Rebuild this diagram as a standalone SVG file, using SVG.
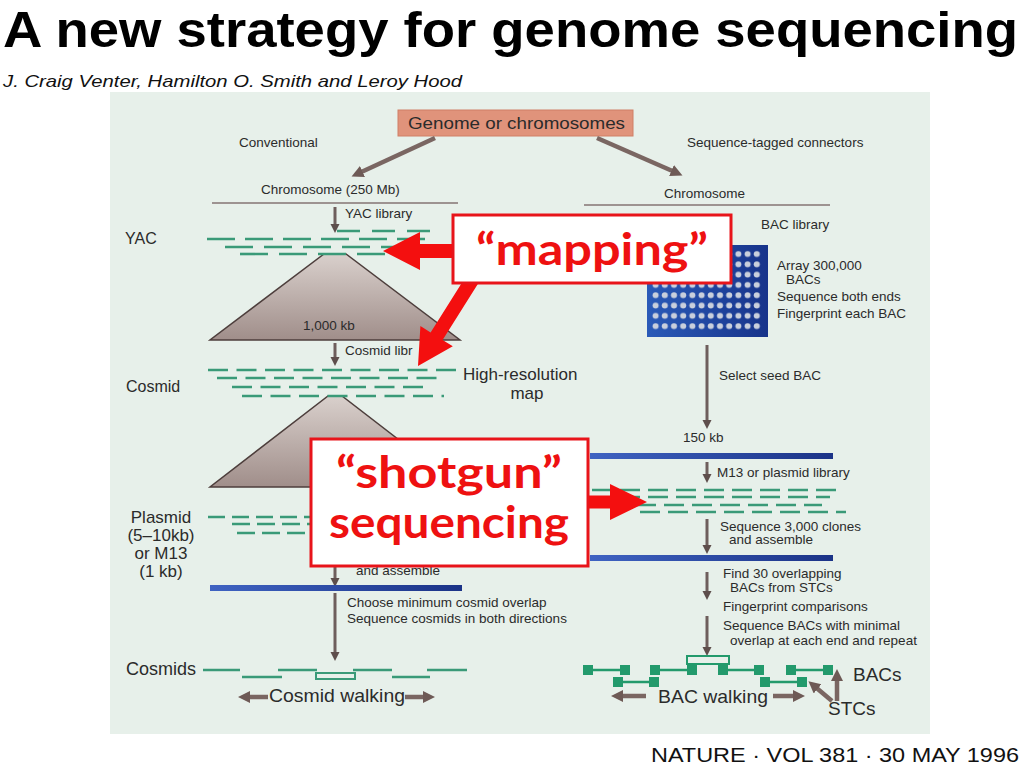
<svg xmlns="http://www.w3.org/2000/svg" width="1024" height="768" viewBox="0 0 1024 768">
<style>
.t{font-family:"Liberation Sans",Arial,sans-serif;fill:#2b2b2b;font-size:13.5px}
.s16{font-size:16px}
.m{font-size:17px}
.l{font-size:18px}
.s19{font-size:19px}
.g{fill:none;stroke:#6e5e5c;stroke-width:3;marker-end:url(#ah)}
.gw{fill:none;stroke:#7a6662;stroke-width:4.5;marker-end:url(#ahw)}
.d{stroke:#3a9a78;stroke-width:2.6;fill:none}
.sq{fill:#239a6c}
.red{font-family:Lato,"Open Sans","Liberation Sans",sans-serif;font-weight:bold;fill:#ee1111;font-size:44px}
.rb{fill:#fff;stroke:#e8141a;stroke-width:3}
.ra{fill:#f40f0f}
</style>
<defs>
<marker id="ah" markerUnits="userSpaceOnUse" markerWidth="10" markerHeight="10" refX="5" refY="4.5" orient="auto"><path d="M0,0 L9,4.5 L0,9 z" fill="#5e4e4c"/></marker>
<marker id="ahw" markerUnits="userSpaceOnUse" markerWidth="14" markerHeight="14" refX="6" refY="6" orient="auto"><path d="M0,0 L12,6 L0,12 z" fill="#6e5a56"/></marker>
<linearGradient id="tri" x1="0" y1="0" x2="0" y2="1"><stop offset="0" stop-color="#d9d0cc"/><stop offset="1" stop-color="#a08e8a"/></linearGradient>
<linearGradient id="bar" x1="0" y1="0" x2="1" y2="0"><stop offset="0" stop-color="#3f63c2"/><stop offset="1" stop-color="#1b3387"/></linearGradient>
<linearGradient id="arr" x1="0" y1="0" x2="1" y2="0"><stop offset="0" stop-color="#2a5ab8"/><stop offset="1" stop-color="#17338a"/></linearGradient>
<pattern id="dots" x="651" y="249" width="9.2" height="10.3" patternUnits="userSpaceOnUse"><circle cx="4.6" cy="5" r="3" fill="#c9cfdc"/></pattern>
</defs>
<rect width="1024" height="768" fill="#fff"/>
<text x="3" y="47" font-family="'Liberation Sans Narrow','Liberation Sans',Arial,sans-serif" font-weight="bold" font-size="50" textLength="1015" lengthAdjust="spacingAndGlyphs" fill="#000">A new strategy for genome sequencing</text>
<text x="3" y="87" font-family="'Liberation Sans',Arial,sans-serif" font-style="italic" font-size="17" textLength="459" lengthAdjust="spacingAndGlyphs" fill="#111">J. Craig Venter, Hamilton O. Smith and Leroy Hood</text>
<text x="651" y="762" font-family="'Liberation Sans',Arial,sans-serif" font-size="20" textLength="368" lengthAdjust="spacingAndGlyphs" fill="#111">NATURE · VOL 381 · 30 MAY 1996</text>

<rect x="110" y="92" width="820" height="642" fill="#e7f0ea"/>

<g id="genome">
<rect x="398" y="110" width="235" height="26" fill="#e0937b" stroke="#d07f66"/>
<text class="t m" x="408" y="129" textLength="217" lengthAdjust="spacingAndGlyphs">Genome or chromosomes</text>
</g>
<text class="t" x="239" y="147">Conventional</text>
<text class="t" x="687" y="147">Sequence-tagged connectors</text>

<g id="connectors">
<line class="gw" x1="435" y1="138" x2="357" y2="174"/>
<line class="gw" x1="597" y1="138" x2="677" y2="173"/>
<line class="g" x1="335" y1="207" x2="335" y2="229"/>
<line class="g" x1="335" y1="343" x2="335" y2="362"/>
<line class="g" x1="335" y1="566" x2="335" y2="583"/>
<line class="g" x1="335" y1="593" x2="335" y2="657"/>
<line class="g" x1="707" y1="345" x2="707" y2="425"/>
<line class="g" x1="707" y1="462" x2="707" y2="479"/>
<line class="g" x1="707" y1="519" x2="707" y2="550"/>
<line class="g" x1="707" y1="572" x2="707" y2="596"/>
<line class="g" x1="707" y1="616" x2="707" y2="652"/>
<line class="gw" x1="268" y1="697" x2="244" y2="697"/>
<line class="gw" x1="405" y1="697" x2="429" y2="697"/>
<line class="gw" x1="646" y1="696" x2="617" y2="696"/>
<line class="gw" x1="773" y1="696" x2="799" y2="696"/>
<line class="gw" x1="832" y1="701" x2="813" y2="685"/>
<line class="gw" x1="837" y1="701" x2="837" y2="675"/>
</g>

<g id="left-column">
<text class="t" x="261" y="194">Chromosome (250 Mb)</text>
<line x1="212" y1="203" x2="458" y2="203" stroke="#857573" stroke-width="1.5"/>
<text class="t" x="345" y="218">YAC library</text>
<text class="t s16" x="125" y="244">YAC</text>
<polygon points="324,254 346,254 460,340 210,340" fill="url(#tri)" stroke="#4d3e3c" stroke-width="1.5"/>
<line class="d" x1="337" y1="231" x2="436" y2="231" stroke-dasharray="23 12"/>
<line class="d" x1="207" y1="239" x2="428" y2="239" stroke-dasharray="28 10"/>
<line class="d" x1="225" y1="247" x2="410" y2="247" stroke-dasharray="28 11"/>
<line class="d" x1="240" y1="254" x2="386" y2="254" stroke-dasharray="28 11"/>
<text class="t" x="303" y="330">1,000 kb</text>
<text class="t" x="345" y="355">Cosmid libr</text>
<text class="t s16" x="126" y="392">Cosmid</text>
<polygon points="328,396 342,396 460,487 210,487" fill="url(#tri)" stroke="#4d3e3c" stroke-width="1.5"/>
<line class="d" x1="208" y1="370" x2="456" y2="370" stroke-dasharray="20 8.5"/>
<line class="d" x1="217" y1="378" x2="441" y2="378" stroke-dasharray="20 8.5"/>
<line class="d" x1="232" y1="387" x2="424" y2="387" stroke-dasharray="20 8.5"/>
<line class="d" x1="242" y1="396" x2="444" y2="396" stroke-dasharray="20 8.5"/>
<text class="t m" x="463" y="380">High-resolution</text>
<text class="t m" x="527" y="399" text-anchor="middle">map</text>
<g class="t m" text-anchor="middle">
<text x="161" y="523">Plasmid</text>
<text x="161" y="541">(5–10kb)</text>
<text x="161" y="559">or M13</text>
<text x="161" y="577">(1 kb)</text>
</g>
<line class="d" x1="208" y1="517" x2="310" y2="517" stroke-dasharray="17 7"/>
<line class="d" x1="232" y1="524" x2="310" y2="524" stroke-dasharray="18 7"/>
<line class="d" x1="237" y1="533" x2="310" y2="533" stroke-dasharray="18 7"/>
<text class="t" x="356" y="575">and assemble</text>
<rect x="210" y="585" width="252" height="6" fill="url(#bar)"/>
<text class="t" x="347" y="607">Choose minimum cosmid overlap</text>
<text class="t" x="347" y="623">Sequence cosmids in both directions</text>
<text class="t l" x="126" y="675">Cosmids</text>
<g class="d">
<line x1="203" y1="670" x2="240" y2="670"/>
<line x1="278" y1="670" x2="317" y2="670"/>
<line x1="353" y1="670" x2="392" y2="670"/>
<line x1="427" y1="670" x2="467" y2="670"/>
<line x1="242" y1="677" x2="282" y2="677"/>
<line x1="392" y1="677" x2="430" y2="677"/>
<rect x="316" y="673" width="39" height="6" stroke-width="2"/>
</g>
<text class="t s19" x="269" y="702" textLength="136" lengthAdjust="spacingAndGlyphs">Cosmid walking</text>
</g>

<g id="right-column">
<text class="t" x="664" y="198">Chromosome</text>
<line x1="584" y1="205" x2="830" y2="205" stroke="#857573" stroke-width="1.5"/>
<text class="t" x="761" y="229">BAC library</text>
<rect x="647" y="245" width="121" height="92" fill="url(#arr)"/>
<rect x="651" y="249" width="110" height="83" fill="url(#dots)"/>
<text class="t" x="777" y="270">Array 300,000</text>
<text class="t" x="786" y="284">BACs</text>
<text class="t" x="777" y="301">Sequence both ends</text>
<text class="t" x="777" y="318">Fingerprint each BAC</text>
<text class="t" x="719" y="380">Select seed BAC</text>
<text class="t" x="683" y="442">150 kb</text>
<rect x="590" y="453" width="243" height="6" fill="url(#bar)"/>
<text class="t" x="717" y="477">M13 or plasmid library</text>
<line class="d" x1="592" y1="490" x2="844" y2="490" stroke-dasharray="20 8"/>
<line class="d" x1="620" y1="497" x2="830" y2="497" stroke-dasharray="20 8"/>
<line class="d" x1="636" y1="505" x2="822" y2="505" stroke-dasharray="20 8"/>
<line class="d" x1="640" y1="512" x2="846" y2="512" stroke-dasharray="20 8"/>
<text class="t" x="720" y="531">Sequence 3,000 clones</text>
<text class="t" x="729" y="544">and assemble</text>
<rect x="590" y="555" width="243" height="6" fill="url(#bar)"/>
<text class="t" x="723" y="578">Find 30 overlapping</text>
<text class="t" x="730" y="592">BACs from STCs</text>
<text class="t" x="723" y="611">Fingerprint comparisons</text>
<text class="t" x="723" y="630">Sequence BACs with minimal</text>
<text class="t" x="730" y="645">overlap at each end and repeat</text>
<rect x="687" y="656" width="42" height="8" fill="none" stroke="#239a6c" stroke-width="2"/>
<g stroke="#239a6c" stroke-width="2.5">
<line x1="588" y1="670" x2="625" y2="670"/>
<line x1="655" y1="670" x2="692" y2="670"/>
<line x1="723" y1="670" x2="759" y2="670"/>
<line x1="791" y1="670" x2="828" y2="670"/>
<line x1="618" y1="682" x2="654" y2="682"/>
<line x1="765" y1="682" x2="802" y2="682"/>
</g>
<g class="sq">
<rect x="583" y="665" width="10" height="10"/>
<rect x="620" y="665" width="10" height="10"/>
<rect x="650" y="665" width="10" height="10"/>
<rect x="687" y="665" width="10" height="10"/>
<rect x="718" y="665" width="10" height="10"/>
<rect x="754" y="665" width="10" height="10"/>
<rect x="786" y="665" width="10" height="10"/>
<rect x="823" y="665" width="10" height="10"/>
<rect x="613" y="677" width="10" height="10"/>
<rect x="649" y="677" width="10" height="10"/>
<rect x="760" y="677" width="10" height="10"/>
<rect x="797" y="677" width="10" height="10"/>
</g>
<text class="t s19" x="658" y="703" textLength="110" lengthAdjust="spacingAndGlyphs">BAC walking</text>
<text class="t s19" x="853" y="681">BACs</text>
<text class="t s19" x="828" y="715">STCs</text>
</g>

<g id="mapping">
<polygon class="ra" points="383,251 420,232 420,244 456,244 456,258 420,258 420,270"/>
<polygon class="ra" points="418,366 452.8,346.3 442.6,339.9 478,283.7 466,276.3 430.6,332.5 420.4,326.1"/>
<rect class="rb" x="453" y="215" width="278" height="68"/>
<text class="red" x="592" y="265" text-anchor="middle" textLength="232" lengthAdjust="spacingAndGlyphs">“mapping”</text>
</g>

<g id="shotgun">
<polygon class="ra" points="647,502 610,484 610,495.5 586,495.5 586,508.5 610,508.5 610,520"/>
<rect class="rb" x="311" y="439" width="277" height="127"/>
<text class="red" x="449" y="488" text-anchor="middle" textLength="226" lengthAdjust="spacingAndGlyphs">“shotgun”</text>
<text class="red" x="449" y="538" text-anchor="middle" textLength="240" lengthAdjust="spacingAndGlyphs">sequencing</text>
</g>
</svg>
